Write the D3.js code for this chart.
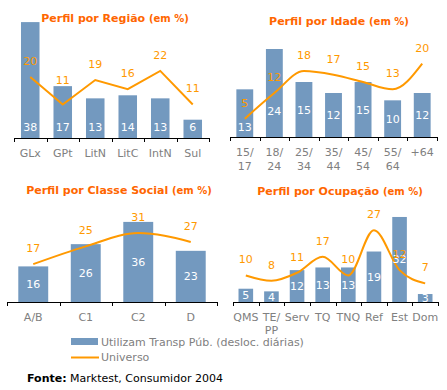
<!DOCTYPE html>
<html>
<head>
<meta charset="utf-8">
<script src="https://cdn.jsdelivr.net/npm/d3@7"></script>
<style>
  body { margin: 0; background: #fff; }
  svg { display: block; font-family: "DejaVu Sans", Verdana, sans-serif; }
</style>
</head>
<body>
<svg id="chart" width="447" height="390"></svg>
<script>
// values (em %)
var regiaoCats = ["GLx", "GPt", "LitN", "LitC", "IntN", "Sul"];
var regiaoTransp = [38, 17, 13, 14, 13, 6];
var regiaoUniverso = [20, 11, 19, 16, 22, 11];

var idadeCats = [["15/", "17"], ["18/", "24"], ["25/", "34"], ["35/", "44"], ["45/", "54"], ["55/", "64"], ["+64"]];
var idadeTransp = [13, 24, 15, 12, 15, 10, 12];
var idadeUniverso = [5, 12, 18, 17, 15, 13, 20];

var classeCats = ["A/B", "C1", "C2", "D"];
var classeTransp = [16, 26, 36, 23];
var classeUniverso = [17, 25, 31, 27];

var ocupCats = ["QMS", ["TE/", "PP"], "Serv", "TQ", "TNQ", "Ref", "Est", "Dom"];
var ocupTransp = [5, 4, 12, 13, 13, 19, 32, 3];
var ocupUniverso = [10, 8, 11, 17, 10, 27, 12, 7];

var legendLabels = ["Utilizam Transp Púb. (desloc. diárias)", "Universo"];

var barColor = "#7399bf",
    lineColor = "#ff9900",
    titleColor = "#ff6600",
    greyText = "#808080";

var svg = d3.select("#chart");

// layout of each small chart
var panels = [
    { title: "Perfil por Região", cats: regiaoCats, bars: regiaoTransp, line: regiaoUniverso,
      x0: 14, x1: 209, base: 138, max: 40, h: 122, tx: 115, ty: 22, labelMode: "base", curve: d3.curveLinear, lh: 14 },
    { title: "Perfil por Idade", cats: idadeCats, bars: idadeTransp, line: idadeUniverso,
      x0: 230, x1: 437, base: 137, max: 30, h: 110, tx: 339, ty: 25, labelMode: "center", curve: d3.curveMonotoneX, lh: 14 },
    { title: "Perfil por Classe Social", cats: classeCats, bars: classeTransp, line: classeUniverso,
      x0: 7, x1: 217, base: 302, max: 40, h: 89, tx: 119, ty: 194, labelMode: "center", curve: d3.curveMonotoneX, lh: 13 },
    { title: "Perfil por Ocupação", cats: ocupCats, bars: ocupTransp, line: ocupUniverso,
      x0: 233, x1: 438, base: 302, max: 35, h: 93, tx: 340, ty: 195, labelMode: "center", curve: d3.curveMonotoneX, lh: 13 }
];

panels.forEach(function(p) {
    var n = p.cats.length;
    var g = svg.append("g");

    var x = d3.scaleBand().domain(d3.range(n)).range([p.x0, p.x1])
        .paddingInner(0.43).paddingOuter(0.215);
    var y = d3.scaleLinear().domain([0, p.max]).range([p.base, p.base - p.h]);
    var cx = function(i) { return x(i) + x.bandwidth() / 2; };

    // title
    var t = g.append("text")
        .attr("x", p.tx)
        .attr("y", p.ty)
        .attr("text-anchor", "middle")
        .attr("fill", titleColor)
        .attr("font-weight", "bold");
    t.append("tspan").attr("font-size", "11px").text(p.title + " ");
    t.append("tspan").attr("font-size", "10px").text("(em %)");

    // bars
    g.selectAll(".bar")
        .data(p.bars)
        .enter().append("rect")
        .attr("class", "bar")
        .attr("fill", barColor)
        .attr("x", function(d, i) { return x(i); })
        .attr("width", x.bandwidth())
        .attr("y", function(d) { return y(d); })
        .attr("height", function(d) { return p.base - y(d); });

    // axis with ticks between categories
    var xb = d3.scaleLinear().domain([0, n]).range([p.x0, p.x1]);
    var ax = g.append("g")
        .attr("transform", "translate(0," + p.base + ")")
        .call(d3.axisBottom(xb).tickValues(d3.range(n + 1)).tickFormat("").tickSize(4).tickSizeOuter(4));
    ax.selectAll("path, line").attr("stroke", "#000").attr("shape-rendering", "crispEdges");

    // category labels
    g.selectAll(".cat")
        .data(p.cats)
        .enter().append("text")
        .attr("class", "cat")
        .attr("text-anchor", "middle")
        .attr("font-size", "11px")
        .attr("fill", greyText)
        .each(function(d, i) {
            var lines = Array.isArray(d) ? d : [d];
            var el = d3.select(this);
            lines.forEach(function(s, k) {
                el.append("tspan")
                    .attr("x", cx(i))
                    .attr("y", p.base + 19 + k * p.lh)
                    .text(s);
            });
        });

    // Universo line
    var line = d3.line()
        .x(function(d, i) { return cx(i); })
        .y(function(d) { return y(d); })
        .curve(p.curve);
    g.append("path")
        .datum(p.line)
        .attr("fill", "none")
        .attr("stroke", lineColor)
        .attr("stroke-width", 2)
        .attr("d", line);

    // bar value labels
    g.selectAll(".blab")
        .data(p.bars)
        .enter().append("text")
        .attr("class", "blab")
        .attr("text-anchor", "middle")
        .attr("font-size", "11px")
        .attr("fill", "#fff")
        .attr("x", function(d, i) { return cx(i); })
        .attr("y", function(d, i) {
            var c;
            if (p.labelMode == "base") {
                c = p.base - 11;
            } else {
                c = (y(d) + p.base) / 2;
                var py = y(p.line[i]);
                if (Math.abs(c - py) < 8) c = Math.min(py + 18, p.base - 10);
            }
            return c + 4;
        })
        .text(function(d) { return d; });

    // line value labels
    g.selectAll(".llab")
        .data(p.line)
        .enter().append("text")
        .attr("class", "llab")
        .attr("text-anchor", "middle")
        .attr("font-size", "11px")
        .attr("fill", lineColor)
        .attr("x", function(d, i) { return cx(i); })
        .attr("y", function(d, i) {
            var py = y(d), top = y(p.bars[i]);
            var diff = py - top;
            if (diff > 12 && diff < 28) return top - 2;
            return py - 12;
        })
        .text(function(d) { return d; });
});

// legend
var lg = svg.append("g");
lg.append("rect")
    .attr("x", 71).attr("y", 338)
    .attr("width", 27).attr("height", 7)
    .attr("fill", barColor);
lg.append("line")
    .attr("x1", 71).attr("x2", 99)
    .attr("y1", 357.5).attr("y2", 357.5)
    .attr("stroke", lineColor)
    .attr("stroke-width", 2);
lg.selectAll(".leg")
    .data(legendLabels)
    .enter().append("text")
    .attr("class", "leg")
    .attr("x", 101)
    .attr("y", function(d, i) { return 346 + i * 15; })
    .attr("font-size", "11px")
    .attr("fill", greyText)
    .text(function(d) { return d; });

// source
var src = svg.append("text")
    .attr("x", 27)
    .attr("y", 382)
    .attr("font-size", "11px")
    .attr("fill", "#000");
src.append("tspan").attr("font-weight", "bold").text("Fonte:");
src.append("tspan").text(" Marktest, Consumidor 2004");
</script>
</body>
</html>
